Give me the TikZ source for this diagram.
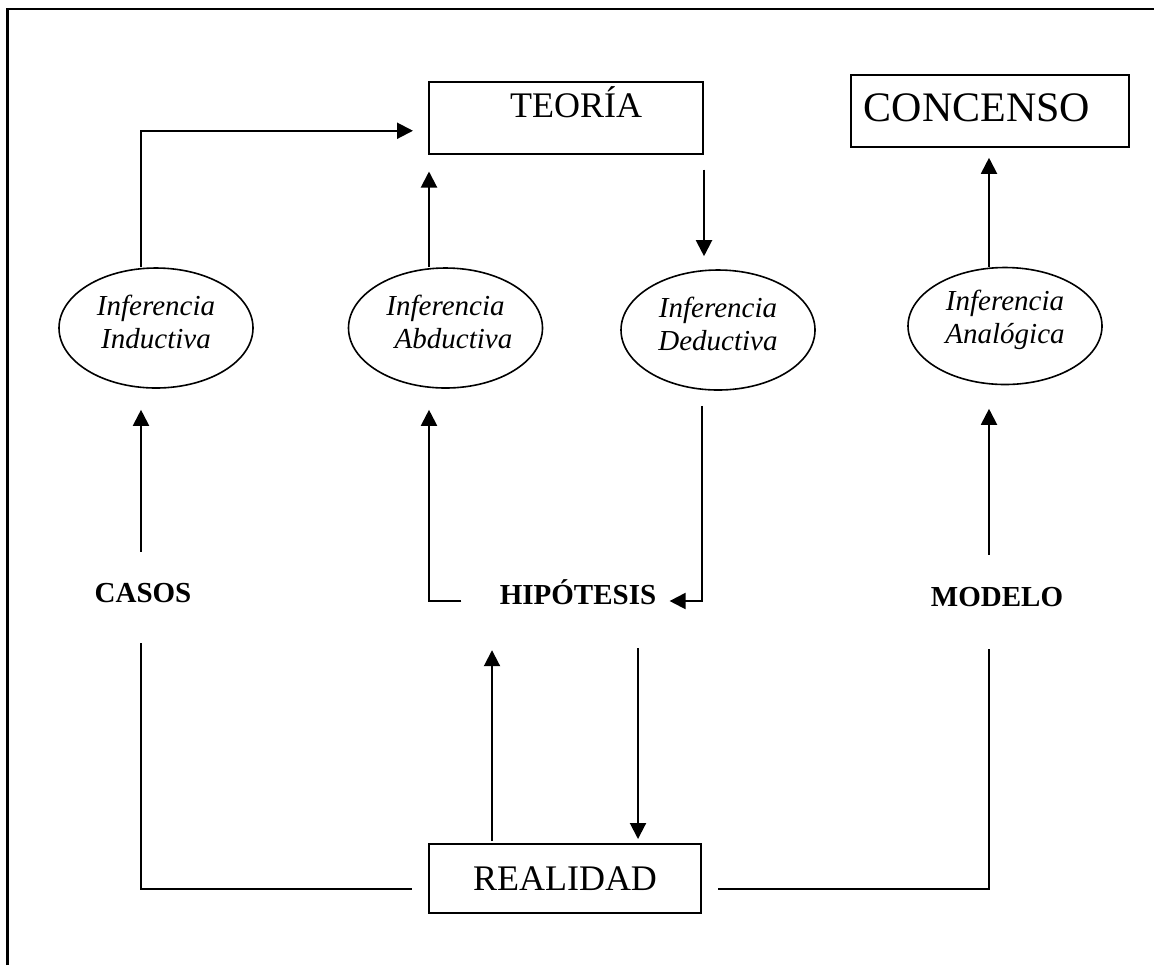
\documentclass[tikz,border=0pt]{standalone}
\usepackage{fontspec}
\setmainfont{Liberation Serif}
\usetikzlibrary{arrows.meta,shapes.geometric}
\begin{document}
\begin{tikzpicture}[x=0.5pt,y=-0.5pt,
  box/.style={draw, line width=1pt, rectangle, inner sep=0pt,
    font=\fontsize{18pt}{20pt}\selectfont},
  infer/.style={draw, line width=0.8pt, ellipse, inner sep=0pt,
    minimum width=97pt, minimum height=60pt},
  itxt/.style={align=center, inner sep=0pt,
    font=\itshape\fontsize{14.5pt}{16.5pt}\selectfont},
  btxt/.style={inner sep=0pt, text height=9.8pt, text depth=0pt,
    font=\bfseries\fontsize{14.5pt}{16.5pt}\selectfont},
  link/.style={line width=1pt},
  arr/.style={link, -{Triangle[length=8pt,width=8pt]}},
]
\useasboundingbox (0,0) rectangle (1154,965);

% page frame
\draw[line width=1.2pt] (7.5,965) -- (7.5,9) -- (1154,9);

% boxes
\node[box, anchor=north west, minimum width=137pt,
      text height=17.9pt, text depth=17.85pt] (teoria) at (428,81)
      {\hspace*{10pt}TEORÍA};
\node[box, anchor=north west, minimum width=139pt,
      text height=23.4pt, text depth=12.5pt,
      font=\fontsize{21pt}{24pt}\selectfont] (concenso) at (850,74)
      {CONCENSO\hspace*{13pt}};
\node[box, minimum width=136pt, minimum height=34.5pt,
      text height=11.9pt, text depth=0pt] (realidad) at (565,878.5)
      {REALIDAD};

% inference ellipses
\node[infer] (ind) at (156,328) {};
\node[infer] (abd) at (445.5,328) {};
\node[infer] (ded) at (718,330) {};
\node[infer, minimum height=58.5pt] (ana) at (1005,326) {};
\node[itxt] (indT) at ([yshift=3pt]ind.center) {Inferencia\\Inductiva};
\node[itxt] (abdT) at ([yshift=3pt]abd.center) {Inferencia\\\hspace*{8pt}Abductiva};
\node[itxt] (dedT) at ([yshift=3pt]ded.center) {Inferencia\\Deductiva};
\node[itxt] (anaT) at ([yshift=3pt]ana.center) {Inferencia\\Analógica};

% bold labels
\node[btxt] (casos) at (143,593) {CASOS};
\node[btxt] (hip) at (578,595) {HIPÓTESIS};
\node[btxt] (modelo) at (997,597) {MODELO};

% connectors
\draw[arr] ([xshift=-7.5pt]ind.north) |- ([xshift=-7.5pt,yshift=-6.5pt]teoria.west);
\draw[arr, shorten >=8.5pt] ([xshift=-8.25pt]abd.north) -- ([xshift=-8.25pt]abd.north |- teoria.south);
\draw[arr, shorten <=7.5pt, shorten >=6.5pt] (teoria.south east) -- (teoria.south east |- ded.north);
\draw[arr, shorten >=5pt] ([xshift=-8pt]ana.north) -- ([xshift=-8pt]ana.north |- concenso.south);

\draw[arr, shorten <=15.5pt, shorten >=10.5pt] ([xshift=-7.5pt]ind.south |- casos.north) -- ([xshift=-7.5pt]ind.south);
\draw[link, shorten <=20pt, shorten >=8pt] ([xshift=-7.5pt]ind.south |- casos.south) |- ([yshift=-5.25pt]realidad.west);
\draw[link, shorten <=8pt, shorten >=21pt] ([yshift=-5.25pt]realidad.east) -| ([xshift=-8pt]ana.south |- modelo.south);
\draw[arr, shorten <=16pt, shorten >=11.75pt] ([xshift=-8pt]ana.south |- modelo.north) -- ([xshift=-8pt]ana.south);

\draw[arr, shorten <=19pt, shorten >=10.5pt] ([yshift=-3pt]hip.west) -| ([xshift=-8.25pt]abd.south);
\draw[arr, shorten <=7.5pt, shorten >=6.5pt] ([xshift=-8pt]ded.south) |- ([yshift=-3pt]hip.east);

\draw[arr, shorten <=1pt, shorten >=22.5pt] ([xshift=32pt]realidad.north west) -- ([xshift=32pt]realidad.north west |- hip.south);
\draw[arr, shorten <=21.5pt, shorten >=2pt] ([xshift=-32pt]realidad.north east |- hip.south) -- ([xshift=-32pt]realidad.north east);
\end{tikzpicture}
\end{document}
